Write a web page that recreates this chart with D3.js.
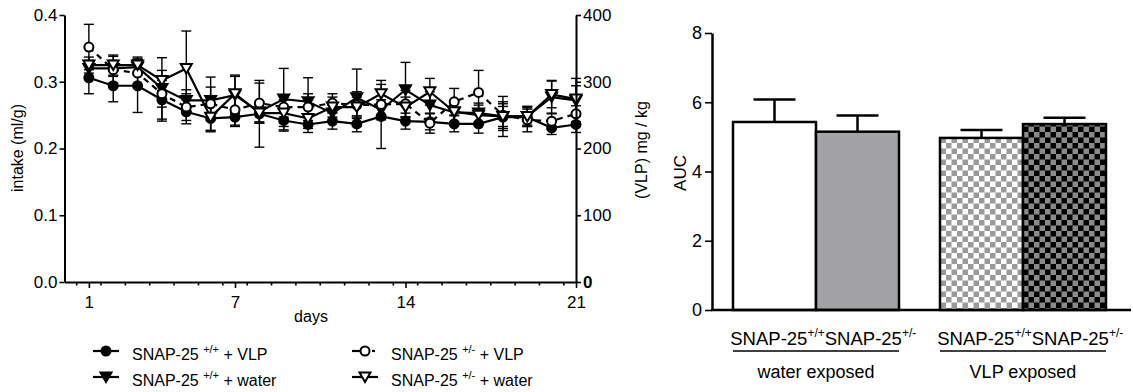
<!DOCTYPE html>
<html><head><meta charset="utf-8">
<script src="https://cdn.jsdelivr.net/npm/d3@7"></script>
<style>
body{margin:0;background:#fff}
svg{display:block}
text{font-family:"Liberation Sans",Arial,sans-serif;fill:#000}
</style>
</head><body>
<svg id="c" width="1133" height="392"></svg>
<script>
// ---------- data (left chart) ----------
const days = [1,2,3,4,5,6,7,8,9,10,11,12,13,14,15,16,17,18,19,20,21];
const dayTicks = [1,7,14,21];
const intakeTicks = [0,0.1,0.2,0.3,0.4];
const doseTicks = [0,100,200,300,400];
// SNAP-25 +/+ + VLP (filled circle)
const wtVLP    = [0.306,0.294,0.294,0.273,0.255,0.245,0.247,0.252,0.242,0.236,0.241,0.237,0.248,0.241,0.240,0.237,0.237,0.247,0.247,0.231,0.236];
const wtVLPErr = [0.024,0.024,0.040,0.032,0.018,0.020,0.012,0.050,0.016,0.012,0.012,0.012,0.048,0.012,0.012,0.012,0.014,0.020,0.012,0.010,0.012];
// SNAP-25 +/+ + water (filled triangle)
const wtWater    = [0.320,0.320,0.322,0.290,0.272,0.272,0.280,0.255,0.274,0.270,0.253,0.276,0.258,0.288,0.265,0.254,0.253,0.248,0.248,0.277,0.272];
const wtWaterErr = [0.012,0.012,0.012,0.046,0.016,0.020,0.028,0.015,0.046,0.036,0.012,0.043,0.015,0.041,0.020,0.018,0.015,0.030,0.015,0.025,0.033];
// SNAP-25 +/- + VLP (open circle, dashed)
const hetVLP    = [0.352,0.318,0.313,0.282,0.262,0.267,0.258,0.268,0.262,0.262,0.268,0.265,0.266,0.267,0.238,0.270,0.284,0.250,0.243,0.241,0.252];
const hetVLPErr = [0.034,0.020,0.020,0.020,0.020,0.040,0.025,0.030,0.015,0.020,0.014,0.020,0.020,0.020,0.015,0.020,0.033,0.020,0.018,0.012,0.012];
// SNAP-25 +/- + water (open triangle)
const hetWater    = [0.325,0.325,0.325,0.302,0.320,0.247,0.282,0.253,0.253,0.245,0.262,0.262,0.282,0.262,0.285,0.255,0.250,0.248,0.248,0.281,0.274];
const hetWaterErr = [0.012,0.015,0.012,0.015,0.056,0.020,0.028,0.015,0.020,0.015,0.015,0.015,0.020,0.015,0.020,0.015,0.015,0.015,0.015,0.020,0.020];

const legendSup = ["+/+","+/+","+/-","+/-"];
const legendSuffix = ["+ VLP","+ water","+ VLP","+ water"];

// ---------- data (right chart) ----------
const groups = ["water exposed","VLP exposed"];
const genotypes = ["SNAP-25","SNAP-25"];
const genoSup = ["+/+","+/-"];
const aucValues = [5.43,5.15,4.97,5.37];
const aucErr = [0.65,0.47,0.23,0.18];
const aucTicks = [0,2,4,6,8];

const svg = d3.select("#c");

// patterns
const defs = svg.append("defs");
function checker(id, bg, fg){
  const p = defs.append("pattern").attr("id",id).attr("patternUnits","userSpaceOnUse")
    .attr("width",11).attr("height",11);
  p.append("rect").attr("width",11).attr("height",11).attr("fill",bg);
  p.append("rect").attr("width",5.5).attr("height",5.5).attr("fill",fg);
  p.append("rect").attr("x",5.5).attr("y",5.5).attr("width",5.5).attr("height",5.5).attr("fill",fg);
}
checker("chkLight","#ffffff","#9a9a9a");
checker("chkDark","#000000","#8a8a8a");

// ---------- left chart ----------
const x = d3.scaleLinear().domain([0,21]).range([64.5,576]);
const yL = d3.scaleLinear().domain([0,0.4]).range([282,15]);
const yR = d3.scaleLinear().domain([0,400]).range([282,15]);

const series = [
  {v:wtVLP, e:wtVLPErr, sym:"circle", fill:"#000", dash:null},
  {v:wtWater, e:wtWaterErr, sym:"tri", fill:"#000", dash:null},
  {v:hetVLP, e:hetVLPErr, sym:"circle", fill:"#fff", dash:"6,5"},
  {v:hetWater, e:hetWaterErr, sym:"tri", fill:"#fff", dash:null}
];
const pts = s => days.map((d,i)=>({d, v:s.v[i], e:s.e[i]}));

function marker(sel, s){
  if(s.sym==="circle"){
    sel.append("circle").attr("r",4.5).attr("fill",s.fill).attr("stroke","#000").attr("stroke-width",2);
  } else {
    sel.append("path").attr("d","M-5.5,-4.5L5.5,-4.5L0,5Z").attr("fill",s.fill).attr("stroke","#000").attr("stroke-width",2).attr("stroke-linejoin","miter");
  }
}

const plot = svg.append("g");
// error bars
series.forEach(s=>{
  const g = plot.append("g").attr("stroke","#000").attr("stroke-width",1.4);
  pts(s).forEach(p=>{
    g.append("line").attr("x1",x(p.d)).attr("x2",x(p.d)).attr("y1",yL(p.v-p.e)).attr("y2",yL(p.v+p.e));
    g.append("line").attr("x1",x(p.d)-5).attr("x2",x(p.d)+5).attr("y1",yL(p.v+p.e)).attr("y2",yL(p.v+p.e));
    g.append("line").attr("x1",x(p.d)-5).attr("x2",x(p.d)+5).attr("y1",yL(p.v-p.e)).attr("y2",yL(p.v-p.e));
  });
});
// lines
const line = d3.line().x(p=>x(p.d)).y(p=>yL(p.v));
series.forEach(s=>{
  plot.append("path").attr("d",line(pts(s))).attr("fill","none").attr("stroke","#000")
    .attr("stroke-width",2.2).attr("stroke-dasharray",s.dash);
});
// markers
series.forEach(s=>{
  pts(s).forEach(p=>{
    const g = plot.append("g").attr("transform",`translate(${x(p.d)},${yL(p.v)})`);
    marker(g,s);
  });
});

// axes
function styleAxis(g, fs){
  g.selectAll(".domain").attr("stroke","#000").attr("stroke-width",2);
  g.selectAll(".tick line").attr("stroke","#000").attr("stroke-width",1.6);
  g.selectAll(".tick text").attr("font-size",fs).attr("font-family","'Liberation Sans',Arial,sans-serif").attr("fill","#000");
}
const axL = svg.append("g").attr("transform","translate(64.5,0)")
  .call(d3.axisLeft(yL).tickValues(intakeTicks).tickFormat(d3.format(".1f")).tickSize(5).tickSizeOuter(0).tickPadding(2));
styleAxis(axL,17);
const axR = svg.append("g").attr("transform","translate(576,0)")
  .call(d3.axisRight(yR).tickValues(doseTicks).tickFormat(d3.format("d")).tickSize(5).tickSizeOuter(0).tickPadding(2));
styleAxis(axR,17);
axR.selectAll(".tick text").filter(d=>d===0).attr("font-weight","bold");
const axB = svg.append("g").attr("transform","translate(0,282)")
  .call(d3.axisBottom(x).tickValues(dayTicks).tickSize(6).tickSizeOuter(0).tickPadding(8));
styleAxis(axB,17);
// minor ticks
axB.selectAll(".minor").data(d3.range(0.5,21,1)).join("line").attr("class","minor")
  .attr("x1",d=>x(d)).attr("x2",d=>x(d)).attr("y1",0).attr("y2",3.5).attr("stroke","#000").attr("stroke-width",1.6);

svg.append("text").attr("x",311).attr("y",322).attr("text-anchor","middle").attr("font-size",16).text("days");
svg.append("text").attr("transform","translate(23,148) rotate(-90)").attr("text-anchor","middle").attr("font-size",16).text("intake (ml/g)");
svg.append("text").attr("transform","translate(647,150) rotate(-90)").attr("text-anchor","middle").attr("font-size",16).text("(VLP) mg / kg");

// legend
const legPos = [[93,351],[93,377],[352,351],[352,377]];
series.forEach((s,i)=>{
  const [lx,ly] = legPos[i];
  const g = svg.append("g");
  if(s.dash){
    g.append("line").attr("x1",lx).attr("x2",lx+8).attr("y1",ly).attr("y2",ly).attr("stroke","#000").attr("stroke-width",2.2);
    g.append("line").attr("x1",lx+20).attr("x2",lx+23).attr("y1",ly).attr("y2",ly).attr("stroke","#000").attr("stroke-width",2.2);
  } else {
    g.append("line").attr("x1",lx).attr("x2",lx+26).attr("y1",ly).attr("y2",ly).attr("stroke","#000").attr("stroke-width",2.2);
  }
  const m = g.append("g").attr("transform",`translate(${lx+13},${ly})`);
  marker(m,s);
  const t = g.append("text").attr("x",lx+39).attr("y",ly+9).attr("font-size",16);
  t.append("tspan").text("SNAP-25 ");
  t.append("tspan").attr("font-size",11).attr("dy",-7).text(legendSup[i]);
  t.append("tspan").attr("dy",7).text(" " + legendSuffix[i]);
});

// ---------- right chart ----------
const yB = d3.scaleLinear().domain([0,8]).range([310,33]);
const xG = d3.scaleBand().domain(groups).range([733,1106]).paddingInner(0.198).paddingOuter(0);
const xI = d3.scaleBand().domain([0,1]).range([0,xG.bandwidth()]).padding(0);
const fills = ["#ffffff","#a3a3a6","url(#chkLight)","url(#chkDark)"];
const labelShift = [3,13];

const bars = aucValues.map((v,i)=>({g:groups[Math.floor(i/2)], k:i%2, v, e:aucErr[i], fill:fills[i]}));
const bg = svg.append("g");
bars.forEach(b=>{
  const bx = xG(b.g)+xI(b.k), bw = xI.bandwidth(), cx = bx+bw/2;
  bg.append("line").attr("x1",cx).attr("x2",cx).attr("y1",yB(b.v)).attr("y2",yB(b.v+b.e)).attr("stroke","#000").attr("stroke-width",2.5);
  bg.append("line").attr("x1",cx-21).attr("x2",cx+21).attr("y1",yB(b.v+b.e)).attr("y2",yB(b.v+b.e)).attr("stroke","#000").attr("stroke-width",2.5);
  bg.append("rect").attr("x",bx).attr("y",yB(b.v)).attr("width",bw).attr("height",yB(0)-yB(b.v))
    .attr("fill",b.fill).attr("stroke","#000").attr("stroke-width",2.5);
});
const axY2 = svg.append("g").attr("transform","translate(712,0)")
  .call(d3.axisLeft(yB).tickValues(aucTicks).tickSize(7).tickSizeOuter(0).tickPadding(3));
styleAxis(axY2,18);
axY2.selectAll(".domain").attr("stroke-width",2.5);
svg.append("line").attr("x1",711).attr("x2",1131).attr("y1",yB(0)).attr("y2",yB(0)).attr("stroke","#000").attr("stroke-width",2.5);

svg.append("text").attr("transform","translate(686,173) rotate(-90)").attr("text-anchor","middle")
  .attr("font-size",17).attr("font-family","'Liberation Serif','Times New Roman',serif").text("AUC");

// category labels
bars.forEach(b=>{
  const cx = xG(b.g)+xI(b.k)+xI.bandwidth()/2 + labelShift[b.k];
  const t = svg.append("text").attr("x",cx).attr("y",345).attr("text-anchor","middle").attr("font-size",18.5);
  t.append("tspan").text(genotypes[b.k]);
  t.append("tspan").attr("font-size",12).attr("dy",-8).text(genoSup[b.k]);
});
groups.forEach(g=>{
  svg.append("line").attr("x1",xG(g)).attr("x2",xG(g)+xG.bandwidth()).attr("y1",351).attr("y2",351).attr("stroke","#000").attr("stroke-width",1.6);
  svg.append("text").attr("x",xG(g)+xG.bandwidth()/2).attr("y",378).attr("text-anchor","middle").attr("font-size",18).text(g);
});
</script>
</body></html>
